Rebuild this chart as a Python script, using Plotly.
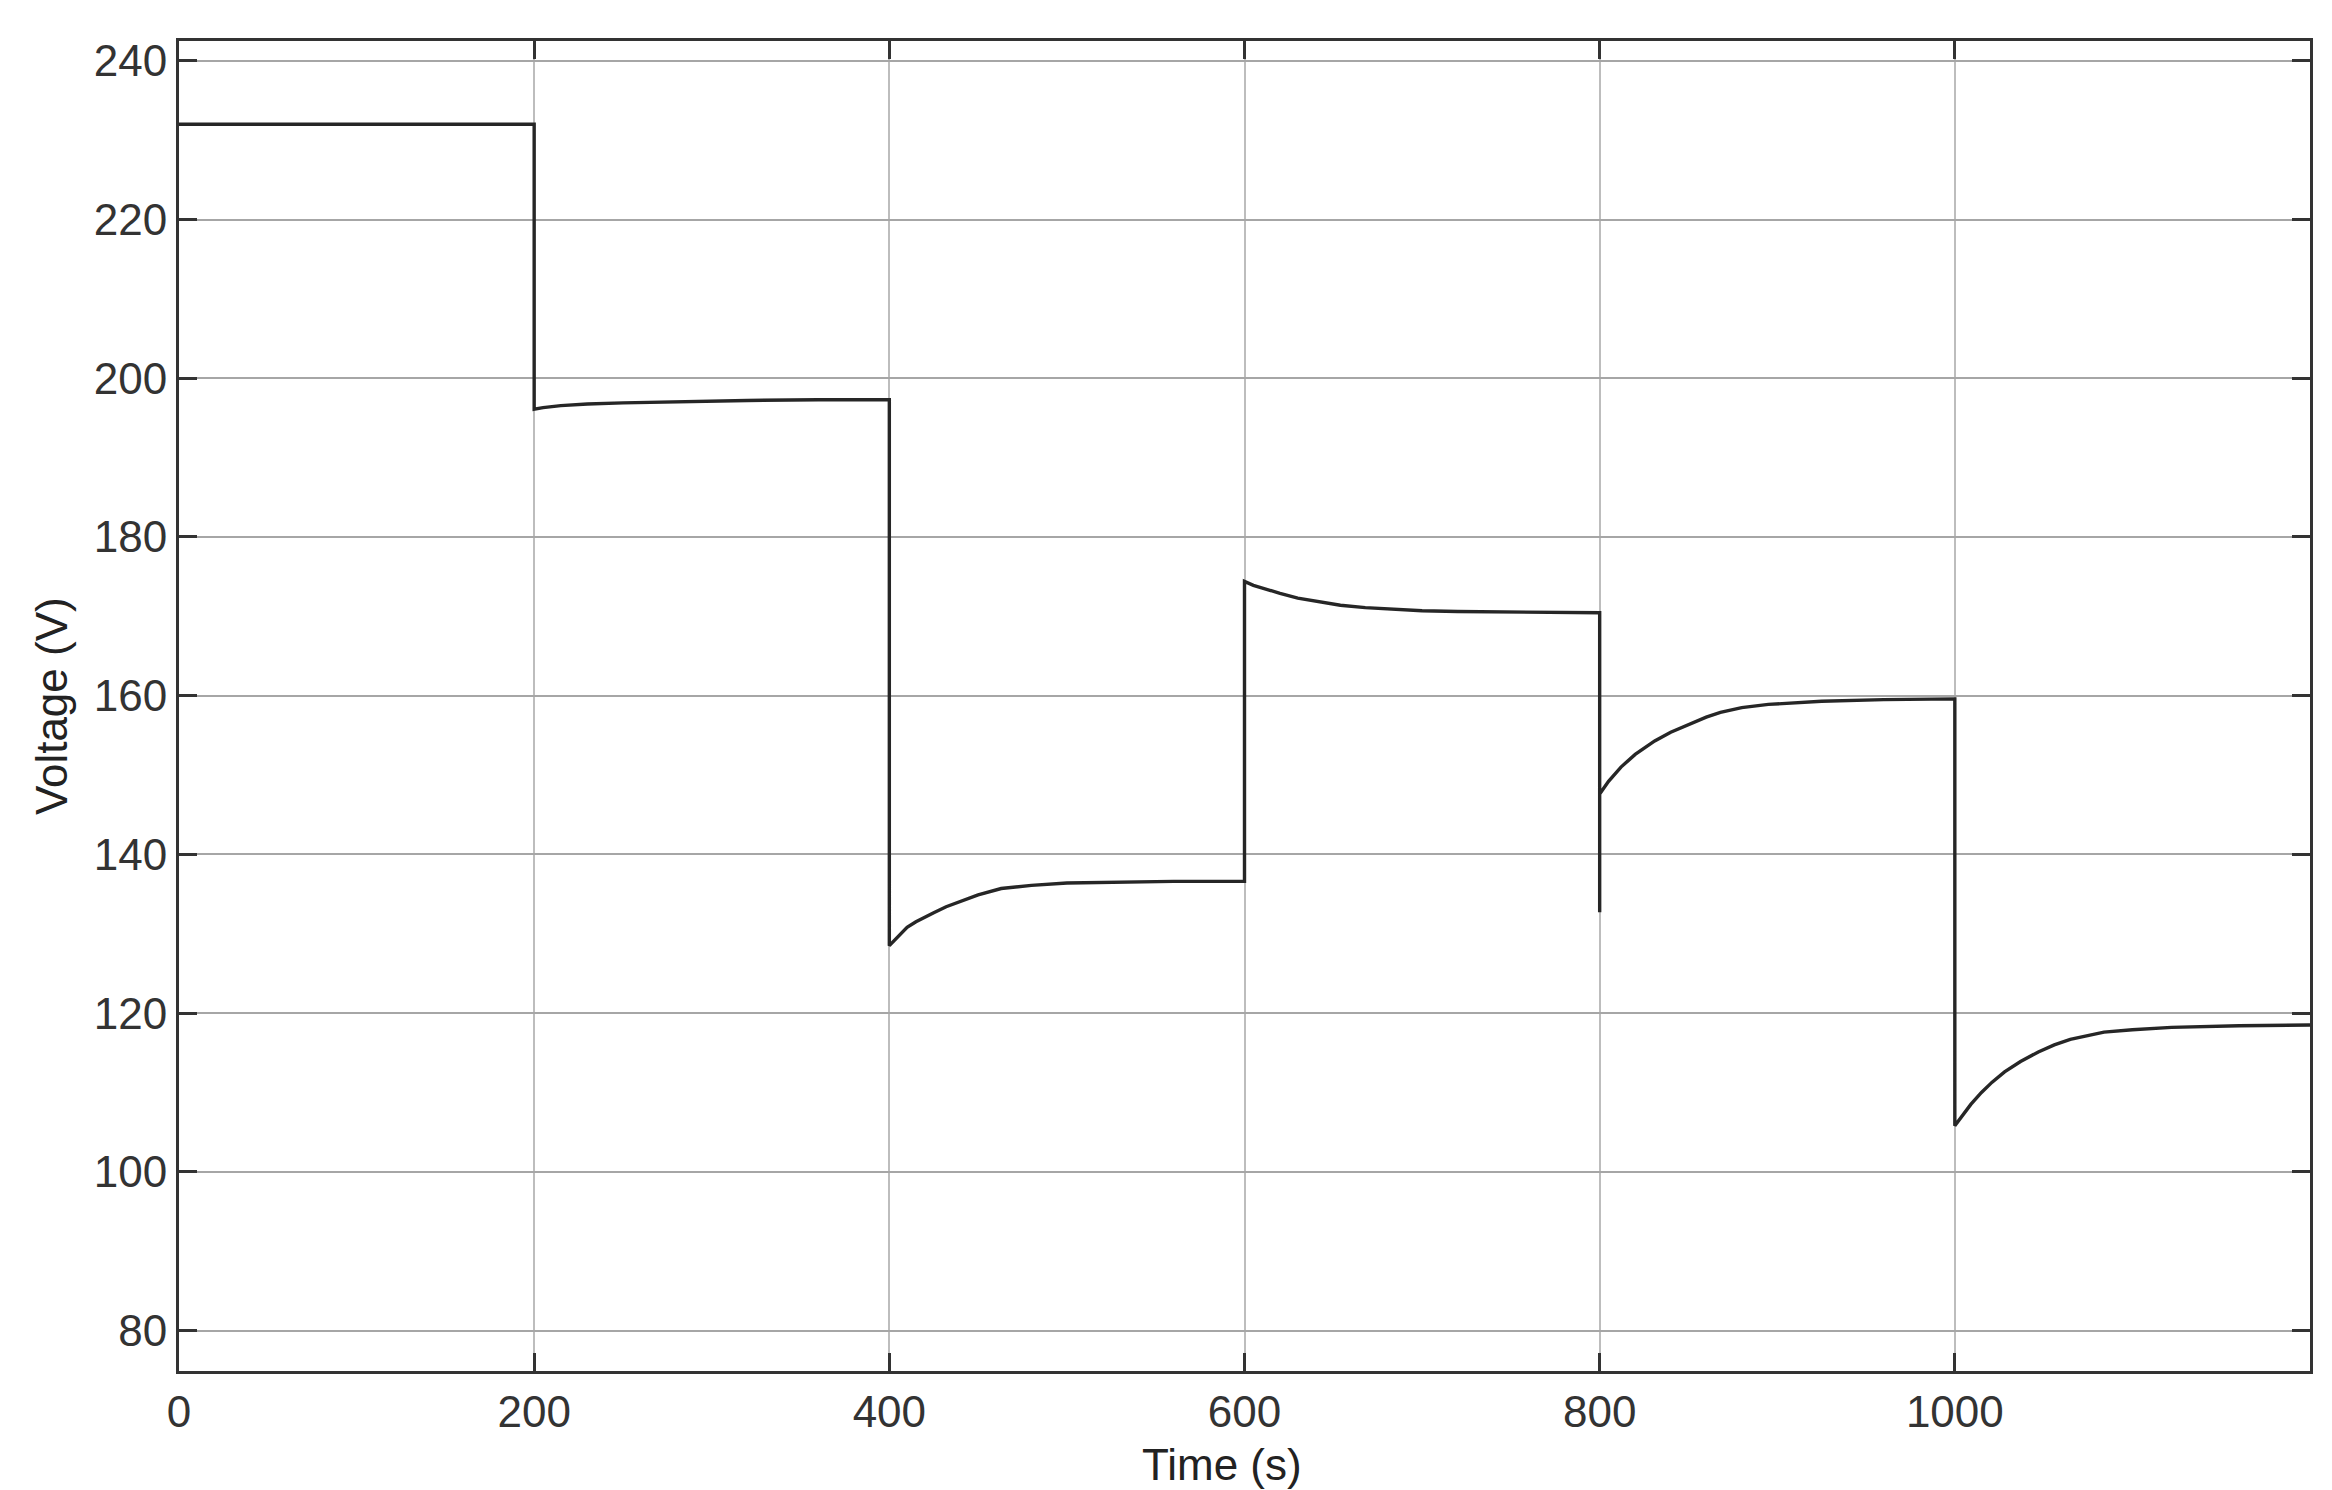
import plotly.graph_objects as go

# Time (s) and Voltage (V)
time_s = [0, 200,
          200, 205, 215, 230, 250, 280, 320, 360, 400,
          400, 403, 406, 410, 415, 420, 425, 432, 440, 450, 463, 480, 500, 530, 560, 600,
          600, 605, 612, 620, 630, 642, 654, 668, 682, 700, 720, 760, 800,
          800, 800, 805, 812, 820, 831, 840, 850, 860, 868, 880, 895, 925, 960, 1000,
          1000, 1004, 1009, 1015, 1021, 1028, 1037, 1047, 1056, 1065, 1075, 1084, 1100, 1122, 1160, 1200]
voltage_v = [232.0, 232.0,
             196.1, 196.3, 196.55, 196.75, 196.9, 197.05, 197.2, 197.3, 197.3,
             128.5, 129.2, 130.0, 130.8, 131.5, 132.1, 132.65, 133.4, 134.1, 134.9, 135.7, 136.1, 136.4, 136.5, 136.6, 136.6,
             174.4, 173.9, 173.4, 172.9, 172.3, 171.8, 171.4, 171.1, 170.9, 170.7, 170.6, 170.5, 170.45,
             132.7, 147.6, 149.2, 151.0, 152.6, 154.3, 155.4, 156.4, 157.3, 157.9, 158.5, 158.9, 159.3, 159.5, 159.6,
             105.8, 107.0, 108.5, 110.0, 111.3, 112.6, 113.9, 115.1, 116.0, 116.7, 117.2, 117.6, 117.9, 118.2, 118.4, 118.5]

x_ticks = [0, 200, 400, 600, 800, 1000]
x_tick_labels = ["0", "200", "400", "600", "800", "1000"]
y_ticks = [80, 100, 120, 140, 160, 180, 200, 220, 240]
y_tick_labels = [str(v) for v in y_ticks]

FONT = "Liberation Sans, Arial, sans-serif"
FS = 44

fig = go.Figure()
fig.add_trace(go.Scatter(
    x=time_s, y=voltage_v, mode="lines",
    line=dict(color="#262626", width=3.4),
    showlegend=False, hoverinfo="skip"))

fig.update_layout(
    width=2332, height=1490,
    margin=dict(l=171, r=30, t=33, b=127),
    paper_bgcolor="white", plot_bgcolor="white",
    font=dict(family=FONT, size=FS, color="#333333"),
    xaxis=dict(
        range=[0, 1200], tickvals=x_ticks, ticktext=x_tick_labels,
        showgrid=True, gridcolor="#bdbdbd", gridwidth=1.6,
        showline=True, linecolor="#333333", linewidth=3, mirror="ticks",
        ticks="inside", ticklen=18, tickwidth=2.5, tickcolor="#333333",
        tickfont=dict(family=FONT, size=FS, color="#333333"),
        zeroline=False),
    yaxis=dict(
        range=[74.9, 242.5], tickvals=y_ticks, ticktext=y_tick_labels,
        showgrid=True, gridcolor="#a6a6a6", gridwidth=2.2,
        showline=True, linecolor="#333333", linewidth=3, mirror="ticks",
        ticks="inside", ticklen=18, tickwidth=2.5, tickcolor="#333333",
        tickfont=dict(family=FONT, size=FS, color="#333333"),
        zeroline=False),
    annotations=[
        dict(text="Time (s)", xref="paper", yref="paper",
             x=0.4895, y=0, yshift=-93, xanchor="center", yanchor="middle",
             showarrow=False, font=dict(family=FONT, size=FS, color="#222222")),
        dict(text="Voltage (V)", xref="paper", yref="paper",
             x=0, xshift=-128, y=0.5, xanchor="center", yanchor="middle",
             textangle=-90, showarrow=False,
             font=dict(family=FONT, size=FS, color="#222222")),
    ],
)

fig.write_html("out.html")
